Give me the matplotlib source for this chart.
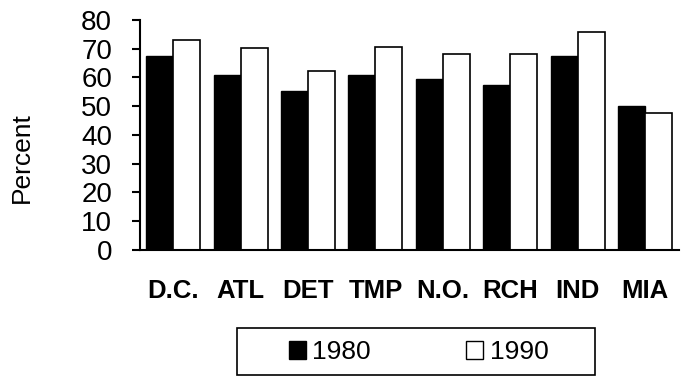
import matplotlib
matplotlib.use("Agg")
import matplotlib.pyplot as plt
import numpy as np
from matplotlib.patches import Rectangle

plt.rcParams["font.family"] = ["Liberation Sans", "DejaVu Sans"]

cities = ["D.C.", "ATL", "DET", "TMP", "N.O.", "RCH", "IND", "MIA"]
pct_1980 = [67.4, 60.9, 55.3, 60.9, 59.5, 57.3, 67.4, 50.2]
pct_1990 = [73.0, 70.1, 62.2, 70.7, 68.0, 68.0, 75.8, 47.8]
yticks = [0, 10, 20, 30, 40, 50, 60, 70, 80]

fig = plt.figure(figsize=(6.89, 3.77), dpi=100)
ax = fig.add_axes([0.2032, 0.3369, 0.7823, 0.6101])

x = np.arange(len(cities))
w = 0.4
ax.bar(x - w / 2, pct_1980, w, color="black", edgecolor="black", linewidth=1)
ax.bar(x + w / 2, pct_1990, w, color="white", edgecolor="black", linewidth=1.2)

ax.set_xlim(-0.49, len(cities) - 0.5)
ax.set_ylim(0, 80)
ax.set_yticks(yticks)
ax.tick_params(axis="y", labelsize=20, length=6, width=1.5, direction="out", pad=14)
ax.set_xticks(x)
ax.set_xticklabels(cities, fontsize=18.5, fontweight="bold")
ax.tick_params(axis="x", length=0, pad=21)
ax.spines["top"].set_visible(False)
ax.spines["right"].set_visible(False)
ax.spines["left"].set_linewidth(1.5)
ax.spines["bottom"].set_linewidth(1.5)
ax.set_ylabel("Percent", fontsize=19, va="center")
ax.yaxis.set_label_coords(-0.219, 0.404)

# legend frame drawn on its own, entries centred inside it
fig.patches.append(Rectangle((237 / 689, 2 / 377), 358 / 689, 47 / 377,
                             transform=fig.transFigure, facecolor="white",
                             edgecolor="black", linewidth=1.2))
handles = [Rectangle((0, 0), 1, 1, facecolor="black", edgecolor="black"),
           Rectangle((0, 0), 1, 1, facecolor="white", edgecolor="black")]
leg = fig.legend(handles, ["1980", "1990"], ncol=2,
                 bbox_to_anchor=(418.5 / 689, 25 / 377), loc="center",
                 fontsize=19, frameon=False,
                 handlelength=0.65, handleheight=0.65, handletextpad=0.25,
                 columnspacing=3.6, borderaxespad=0, borderpad=0)

fig.savefig("out.png", dpi=100)
